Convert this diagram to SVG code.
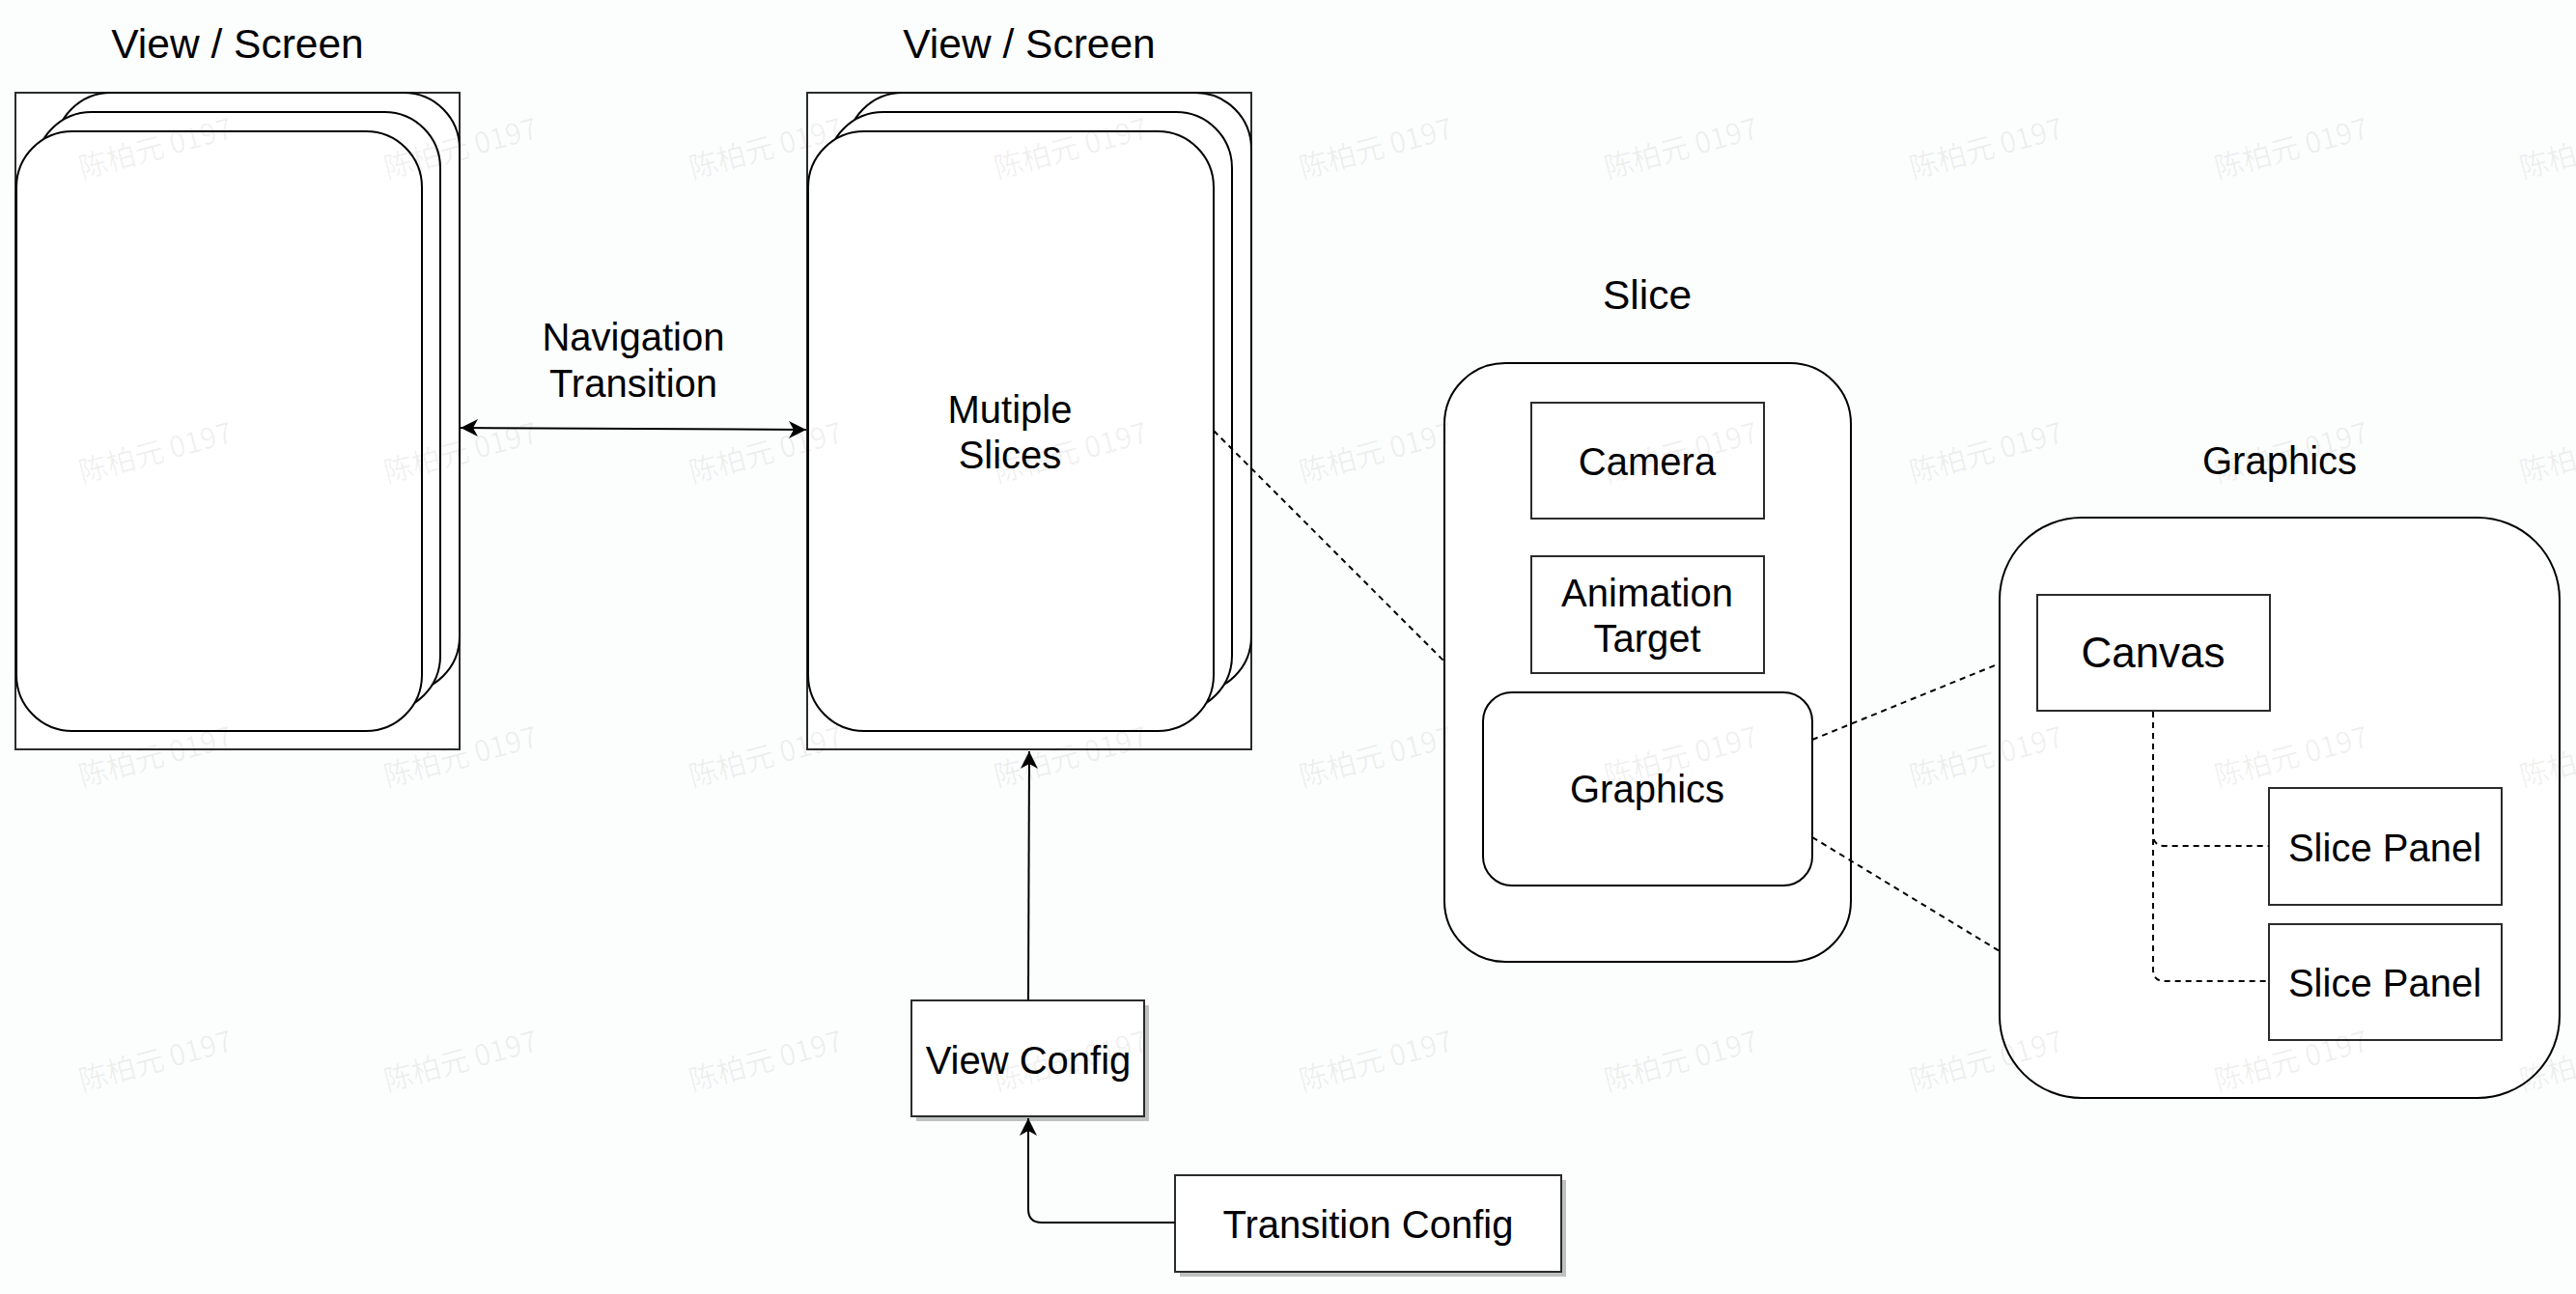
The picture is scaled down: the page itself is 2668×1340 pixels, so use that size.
<svg xmlns="http://www.w3.org/2000/svg" width="2668" height="1340" viewBox="0 0 2668 1340">
  <style>
    .bg { fill: #fcfdfd; }
    .box { fill: #ffffff; stroke: #2b2b2b; stroke-width: 2; }
    .card { fill: #ffffff; stroke: #000000; stroke-width: 2; }
    .shadow { fill: #bfc1c1; }
    .lbl { font-family: "Liberation Sans", Arial, sans-serif; font-size: 40px; fill: #000000; text-anchor: middle; }
    .title { font-family: "Liberation Sans", Arial, sans-serif; font-size: 42.5px; fill: #000000; text-anchor: middle; }
    .edge { fill: none; stroke: #000000; stroke-width: 2; }
    .dash { fill: none; stroke: #000000; stroke-width: 2; stroke-dasharray: 6 5; }
    .wm { font-family: "Noto Sans CJK SC", "Liberation Sans", sans-serif; font-size: 30px; fill: #000000; fill-opacity: 0.06; }
  </style>
  <defs>
    <marker id="arrow" viewBox="-20 -10 22 20" refX="0" refY="0" markerWidth="22" markerHeight="20" markerUnits="userSpaceOnUse" orient="auto-start-reverse">
      <path d="M0,0 L-18,-9 L-13,0 L-18,9 Z" fill="#000000"/>
    </marker>
  </defs>

  <rect class="bg" x="0" y="0" width="2668" height="1340"/>

  <g id="view-screen-1">
    <text class="title" x="246" y="60">View / Screen</text>
    <rect class="box" x="16" y="96" width="460" height="680"/>
    <rect class="card" x="57" y="96" width="419" height="621" rx="58" ry="58"/>
    <rect class="card" x="37" y="116" width="419" height="621" rx="58" ry="58"/>
    <rect class="card" x="17" y="136" width="420" height="621" rx="58" ry="58"/>
  </g>

  <g id="view-screen-2">
    <text class="title" x="1066" y="60">View / Screen</text>
    <rect class="box" x="836" y="96" width="460" height="680"/>
    <rect class="card" x="877" y="96" width="419" height="621" rx="58" ry="58"/>
    <rect class="card" x="857" y="116" width="419" height="621" rx="58" ry="58"/>
    <rect class="card" x="837" y="136" width="420" height="621" rx="58" ry="58"/>
    <text class="lbl" x="1046" y="438">Mutiple</text>
    <text class="lbl" x="1046" y="485">Slices</text>
  </g>

  <g id="nav-label">
    <text class="lbl" x="656" y="363">Navigation</text>
    <text class="lbl" x="656" y="411">Transition</text>
  </g>

  <g id="slice">
    <text class="title" x="1706" y="320">Slice</text>
    <rect class="card" x="1496" y="376" width="421" height="620" rx="63" ry="63"/>
  </g>

  <g id="camera">
    <rect class="box" x="1586" y="417" width="241" height="120"/>
    <text class="lbl" x="1706" y="492">Camera</text>
  </g>

  <g id="animation-target">
    <rect class="box" x="1586" y="576" width="241" height="121"/>
    <text class="lbl" x="1706" y="628">Animation</text>
    <text class="lbl" x="1706" y="675">Target</text>
  </g>

  <g id="slice-graphics">
    <rect class="card" x="1536" y="717" width="341" height="200" rx="30" ry="30"/>
    <text class="lbl" x="1706" y="831">Graphics</text>
  </g>

  <g id="graphics">
    <text class="lbl" x="2361" y="491">Graphics</text>
    <rect class="card" x="2071" y="536" width="580" height="601" rx="85" ry="85"/>
  </g>

  <g id="canvas">
    <rect class="box" x="2110" y="616" width="241" height="120"/>
    <text class="lbl" x="2230" y="691" style="font-size:44px">Canvas</text>
  </g>

  <g id="slice-panel-1">
    <rect class="box" x="2350" y="816" width="241" height="121"/>
    <text class="lbl" x="2470" y="892">Slice Panel</text>
  </g>

  <g id="slice-panel-2">
    <rect class="box" x="2350" y="957" width="241" height="120"/>
    <text class="lbl" x="2470" y="1032">Slice Panel</text>
  </g>

  <g id="view-config">
    <rect class="shadow" x="949" y="1041" width="241" height="120"/>
    <rect class="box" x="944" y="1036" width="241" height="120"/>
    <text class="lbl" x="1065" y="1112">View Config</text>
  </g>

  <g id="transition-config">
    <rect class="shadow" x="1222" y="1222" width="400" height="100"/>
    <rect class="box" x="1217" y="1217" width="400" height="100"/>
    <text class="lbl" x="1417" y="1282">Transition Config</text>
  </g>

  <g id="connectors">
    <path class="edge" d="M477,443 L835,445" marker-start="url(#arrow)" marker-end="url(#arrow)"/>
    <path class="dash" d="M1257,446 L1496,685"/>
    <path class="dash" d="M1877,766 L2071,687"/>
    <path class="dash" d="M1877,867 L2071,985"/>
    <path class="dash" d="M2230,737 V864 Q2230,876 2242,876 H2350"/>
    <path class="dash" d="M2230,737 V1004 Q2230,1016 2242,1016 H2350"/>
    <path class="edge" d="M1065,1036 L1066,778" marker-end="url(#arrow)"/>
    <path class="edge" d="M1217,1266 H1079 Q1065,1266 1065,1252 V1158" marker-end="url(#arrow)"/>
  </g>

  <g id="watermarks">
    <g transform="translate(85,185) rotate(-15)"><text class="wm">陈柏元 0197</text></g>
    <g transform="translate(401,185) rotate(-15)"><text class="wm">陈柏元 0197</text></g>
    <g transform="translate(717,185) rotate(-15)"><text class="wm">陈柏元 0197</text></g>
    <g transform="translate(1033,185) rotate(-15)"><text class="wm">陈柏元 0197</text></g>
    <g transform="translate(1349,185) rotate(-15)"><text class="wm">陈柏元 0197</text></g>
    <g transform="translate(1665,185) rotate(-15)"><text class="wm">陈柏元 0197</text></g>
    <g transform="translate(1981,185) rotate(-15)"><text class="wm">陈柏元 0197</text></g>
    <g transform="translate(2297,185) rotate(-15)"><text class="wm">陈柏元 0197</text></g>
    <g transform="translate(2613,185) rotate(-15)"><text class="wm">陈柏元 0197</text></g>
    <g transform="translate(85,500) rotate(-15)"><text class="wm">陈柏元 0197</text></g>
    <g transform="translate(401,500) rotate(-15)"><text class="wm">陈柏元 0197</text></g>
    <g transform="translate(717,500) rotate(-15)"><text class="wm">陈柏元 0197</text></g>
    <g transform="translate(1033,500) rotate(-15)"><text class="wm">陈柏元 0197</text></g>
    <g transform="translate(1349,500) rotate(-15)"><text class="wm">陈柏元 0197</text></g>
    <g transform="translate(1665,500) rotate(-15)"><text class="wm">陈柏元 0197</text></g>
    <g transform="translate(1981,500) rotate(-15)"><text class="wm">陈柏元 0197</text></g>
    <g transform="translate(2297,500) rotate(-15)"><text class="wm">陈柏元 0197</text></g>
    <g transform="translate(2613,500) rotate(-15)"><text class="wm">陈柏元 0197</text></g>
    <g transform="translate(85,815) rotate(-15)"><text class="wm">陈柏元 0197</text></g>
    <g transform="translate(401,815) rotate(-15)"><text class="wm">陈柏元 0197</text></g>
    <g transform="translate(717,815) rotate(-15)"><text class="wm">陈柏元 0197</text></g>
    <g transform="translate(1033,815) rotate(-15)"><text class="wm">陈柏元 0197</text></g>
    <g transform="translate(1349,815) rotate(-15)"><text class="wm">陈柏元 0197</text></g>
    <g transform="translate(1665,815) rotate(-15)"><text class="wm">陈柏元 0197</text></g>
    <g transform="translate(1981,815) rotate(-15)"><text class="wm">陈柏元 0197</text></g>
    <g transform="translate(2297,815) rotate(-15)"><text class="wm">陈柏元 0197</text></g>
    <g transform="translate(2613,815) rotate(-15)"><text class="wm">陈柏元 0197</text></g>
    <g transform="translate(85,1130) rotate(-15)"><text class="wm">陈柏元 0197</text></g>
    <g transform="translate(401,1130) rotate(-15)"><text class="wm">陈柏元 0197</text></g>
    <g transform="translate(717,1130) rotate(-15)"><text class="wm">陈柏元 0197</text></g>
    <g transform="translate(1033,1130) rotate(-15)"><text class="wm">陈柏元 0197</text></g>
    <g transform="translate(1349,1130) rotate(-15)"><text class="wm">陈柏元 0197</text></g>
    <g transform="translate(1665,1130) rotate(-15)"><text class="wm">陈柏元 0197</text></g>
    <g transform="translate(1981,1130) rotate(-15)"><text class="wm">陈柏元 0197</text></g>
    <g transform="translate(2297,1130) rotate(-15)"><text class="wm">陈柏元 0197</text></g>
    <g transform="translate(2613,1130) rotate(-15)"><text class="wm">陈柏元 0197</text></g>
  </g>
</svg>
